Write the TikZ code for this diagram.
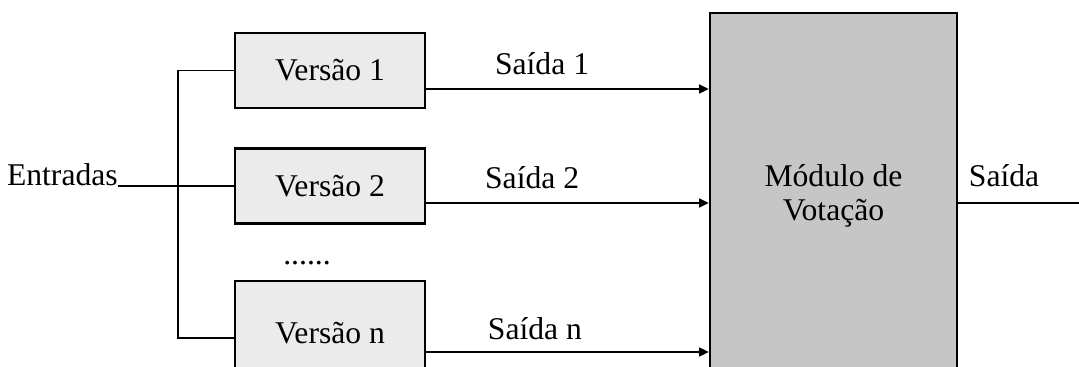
\documentclass[tikz,border=0pt]{standalone}
\usepackage{fontspec}
\setmainfont{Liberation Serif}
\usepackage{xcolor}
\definecolor{cinzaVersao}{HTML}{EBEBEB}
\definecolor{cinzaModulo}{HTML}{C6C6C6}
\usetikzlibrary{arrows.meta,positioning,calc}

\begin{document}
\begin{tikzpicture}[x=0.025cm,y=-0.025cm,
  font=\fontsize{22.5}{24}\selectfont,
  versao/.style={draw=black,line width=1.6pt,fill=cinzaVersao,
    minimum width=4.75cm,minimum height=1.875cm,inner sep=0pt},
  modulo/.style={versao,fill=cinzaModulo,minimum width=6.175cm,
    minimum height=9.15cm,align=center},
  fio/.style={line width=1.25pt},
  arr/.style={fio,-{Triangle[length=2.4mm,width=2.2mm]}},
  rotulo/.style={anchor=base,yshift=0.37cm}]
  \useasboundingbox (0,0) rectangle (1079,367);
  \clip (0,0) rectangle (1079,367);
  \node[versao] (v1) at (330,70.5) {Versão 1};
  \node[versao] (v2) at (330,186) {Versão 2};
  \node[versao,minimum height=2.85cm,text depth=0.25cm] (vn) at (330,338) {Versão n};
  \node[anchor=base] (dots) at (307,265) {......};
  \node[modulo] (mod) at (833.5,196) {Módulo de\\Votação};
  \node[anchor=base east,inner sep=0pt] (entradas) at (118,186) {Entradas};
  % pontos de chegada no modulo de votacao
  \coordinate (in1) at (mod.west |- 0,89);
  \coordinate (in2) at (mod.west |- 0,203);
  \coordinate (inn) at (mod.west |- 0,352);
  \coordinate (bus) at (178,186);
  \coordinate (fim) at (1079,203);
  \draw[fio] (entradas.base east) -- (v2.west);
  \draw[fio] (v1.west) -| (bus) |- (vn.west);
  \draw[arr] (v1.east |- in1) -- node[rotulo,pos=0.41] (s1) {Saída 1} (in1);
  \draw[arr] (v2.east |- in2) -- node[rotulo,pos=0.375] (s2) {Saída 2} (in2);
  \draw[arr] (vn.east |- inn) -- node[rotulo,pos=0.385,yshift=-0.05cm] (sn) {Saída n} (inn);
  \draw[fio] (mod.east |- fim) -- node[rotulo,pos=0.38,yshift=0.05cm] (saida) {Saída} (fim);
\end{tikzpicture}
\end{document}
